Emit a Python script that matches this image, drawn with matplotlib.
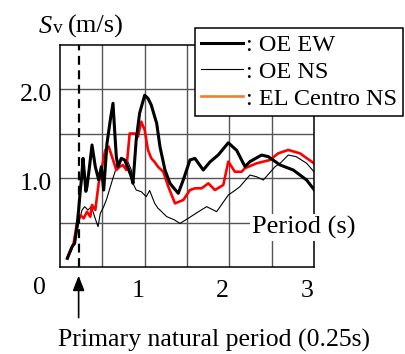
import matplotlib
matplotlib.use("Agg")
import matplotlib.pyplot as plt
from matplotlib.lines import Line2D

plt.rcParams['font.family'] = ['Liberation Serif', 'DejaVu Serif']
plt.rcParams['mathtext.fontset'] = 'custom'
plt.rcParams['mathtext.rm'] = 'Liberation Serif'
plt.rcParams['mathtext.it'] = 'Liberation Serif:italic'

# ---- data (period s, Sv m/s) ----
ew_period = [0.087, 0.094, 0.142, 0.173, 0.20, 0.22, 0.24, 0.255, 0.272, 0.291, 0.305, 0.319, 0.345,
             0.378, 0.417, 0.457, 0.488, 0.516, 0.555, 0.594, 0.626, 0.645, 0.665, 0.685, 0.724,
             0.764, 0.80, 0.842, 0.862, 0.90, 0.94, 1.0, 1.039, 1.078, 1.118, 1.142, 1.181, 1.24,
             1.299, 1.35, 1.397, 1.456, 1.535, 1.594, 1.692, 1.771, 1.87, 1.988, 2.087, 2.185,
             2.243, 2.381, 2.46, 2.60, 2.755, 2.913, 3.0]
ew_sv = [0.098, 0.116, 0.228, 0.266, 0.453, 0.64, 0.865, 1.0, 1.221, 1.015, 0.85, 0.902, 1.1,
         1.371, 1.127, 0.978, 1.127, 0.865, 1.39, 1.65, 1.84, 1.54, 1.24, 1.127, 1.221,
         1.202, 1.12, 1.015, 0.94, 1.427, 1.727, 1.93, 1.895, 1.82, 1.69, 1.614, 1.35, 1.09,
         0.94, 0.88, 0.828, 0.978, 1.203, 1.22, 1.09, 1.18, 1.26, 1.396, 1.31, 1.128,
         1.184, 1.258, 1.24, 1.146, 1.09, 0.977, 0.87]

ns_period = [0.087, 0.14, 0.181, 0.22, 0.26, 0.291, 0.33, 0.37, 0.409, 0.449, 0.476, 0.516, 0.55,
             0.594, 0.626, 0.65, 0.685, 0.744, 0.803, 0.842, 0.862, 0.90, 0.96, 1.019, 1.059,
             1.118, 1.157, 1.181, 1.26, 1.35, 1.417, 1.515, 1.6, 1.732, 1.85, 1.988, 2.066,
             2.125, 2.243, 2.322, 2.401, 2.54, 2.60, 2.696, 2.79, 2.913, 3.0]
ns_sv = [0.098, 0.2, 0.30, 0.49, 0.64, 0.678, 0.64, 0.678, 0.565, 0.453, 0.603, 0.678, 0.76,
         0.9, 1.0, 1.07, 1.18, 1.221, 1.18, 1.09, 0.94, 0.865, 0.846, 0.79, 0.86,
         0.716, 0.66, 0.64, 0.566, 0.53, 0.49, 0.547, 0.6, 0.678, 0.622, 0.809, 0.86,
         0.903, 1.033, 1.014, 0.977, 1.127, 1.165, 1.258, 1.24, 1.165, 1.07]

elc_period = [0.087, 0.161, 0.20, 0.24, 0.28, 0.319, 0.358, 0.378, 0.417, 0.457, 0.496, 0.535, 0.575,
              0.614, 0.665, 0.705, 0.744, 0.783, 0.823, 0.882, 0.921, 0.96, 1.0, 1.039, 1.078,
              1.118, 1.157, 1.22, 1.279, 1.358, 1.456, 1.535, 1.594, 1.673, 1.752, 1.83, 1.929,
              1.988, 2.066, 2.105, 2.145, 2.184, 2.322, 2.479, 2.577, 2.696, 2.834, 3.0]
elc_sv = [0.098, 0.266, 0.49, 0.584, 0.547, 0.621, 0.565, 0.697, 0.64, 0.94, 1.127, 1.315, 1.352,
          1.24, 1.09, 1.127, 1.146, 1.09, 1.50, 1.50, 1.464, 1.633, 1.54, 1.315, 1.221,
          1.18, 1.127, 1.07, 0.903, 0.715, 0.753, 0.865, 0.884, 0.884, 0.94, 0.865, 0.922,
          1.184, 1.07, 1.07, 1.07, 1.11, 1.165, 1.202, 1.277, 1.315, 1.277, 1.165]

natural_period = 0.22
x_ticks = [1, 2, 3]
y_ticks = [1.0, 2.0]

W, H = 405, 354
fig = plt.figure(figsize=(W / 100, H / 100), dpi=100)
ax = fig.add_axes([60 / W, 1 - 267 / H, 254 / W, 222.5 / H])
ax.set_xlim(0, 3)
ax.set_ylim(0, 2.5)

for xv in [0.5, 1.0, 1.5, 2.0, 2.5]:
    ax.axvline(xv, color='#555555', lw=1.0, zorder=1)
for yv in [0.5, 1.0, 1.5, 2.0]:
    ax.axhline(yv, color='#555555', lw=1.0, zorder=1)

ax.plot(ns_period, ns_sv, color='black', lw=0.8, zorder=3)
ax.plot(elc_period, elc_sv, color='#ff0000', lw=1.9, zorder=4)
ax.plot(ew_period, ew_sv, color='black', lw=2.2, zorder=5)
ax.axvline(natural_period, color='black', lw=1.6, ls=(0, (4, 2.5)), zorder=6)

ax.set_xticks([])
ax.set_yticks([])
for s in ax.spines.values():
    s.set_linewidth(1.1)
    s.set_zorder(7)

fs = 18.5
for xv in x_ticks:
    ax.annotate(str(xv), xy=(xv, 0), xytext=(-5, -17), textcoords='offset points',
                ha='center', va='center', fontsize=fs, annotation_clip=False)
ax.annotate('0', xy=(0, 0), xytext=(-14.5, -15), textcoords='offset points',
            ha='center', va='center', fontsize=fs, annotation_clip=False)
for yv in y_ticks:
    ax.annotate('%.1f' % yv, xy=(0, yv), xytext=(-6, -4), textcoords='offset points',
                ha='right', va='center', fontsize=fs, annotation_clip=False)

# y label
fig.text(38 / W, 1 - 33 / H, '$S$', fontsize=19, ha='left', va='baseline')
fig.text(53 / W, 1 - 33 / H, 'v', fontsize=14, ha='left', va='baseline')
fig.text(68 / W, 1 - 33 / H, '(m/s)', fontsize=19, ha='left', va='baseline')

# Period label
ax.text(2.27, 0.44, 'Period (s)', fontsize=19, ha='left', va='center', zorder=10, clip_on=False,
        bbox=dict(boxstyle='square,pad=0.08', facecolor='white', edgecolor='none'))

# arrow
ax.annotate('', xy=(natural_period, -0.065), xytext=(natural_period, -0.6),
            xycoords='data', textcoords='data', annotation_clip=False,
            arrowprops=dict(arrowstyle='-|>,head_length=0.9,head_width=0.35', color='black', lw=1.2))
fig.text(214 / W, 1 - 340 / H, 'Primary natural period (0.25s)', fontsize=fs, ha='center', va='center')

handles = [Line2D([], [], color='black', lw=2.2),
           Line2D([], [], color='black', lw=0.8),
           Line2D([], [], color='#ef7d32', lw=1.9)]
labels = [': OE EW', ': OE NS', ': EL Centro NS']
leg = ax.legend(handles, labels, loc='upper left', bbox_to_anchor=(0.531, 1.074), borderaxespad=0,
                fontsize=17.5, handlelength=1.75, handletextpad=0.1, labelspacing=0.2,
                borderpad=0.25, fancybox=False, framealpha=1, edgecolor='black')
leg.get_frame().set_linewidth(1.1)
leg.set_zorder(20)

fig.savefig('out.png', dpi=100)
